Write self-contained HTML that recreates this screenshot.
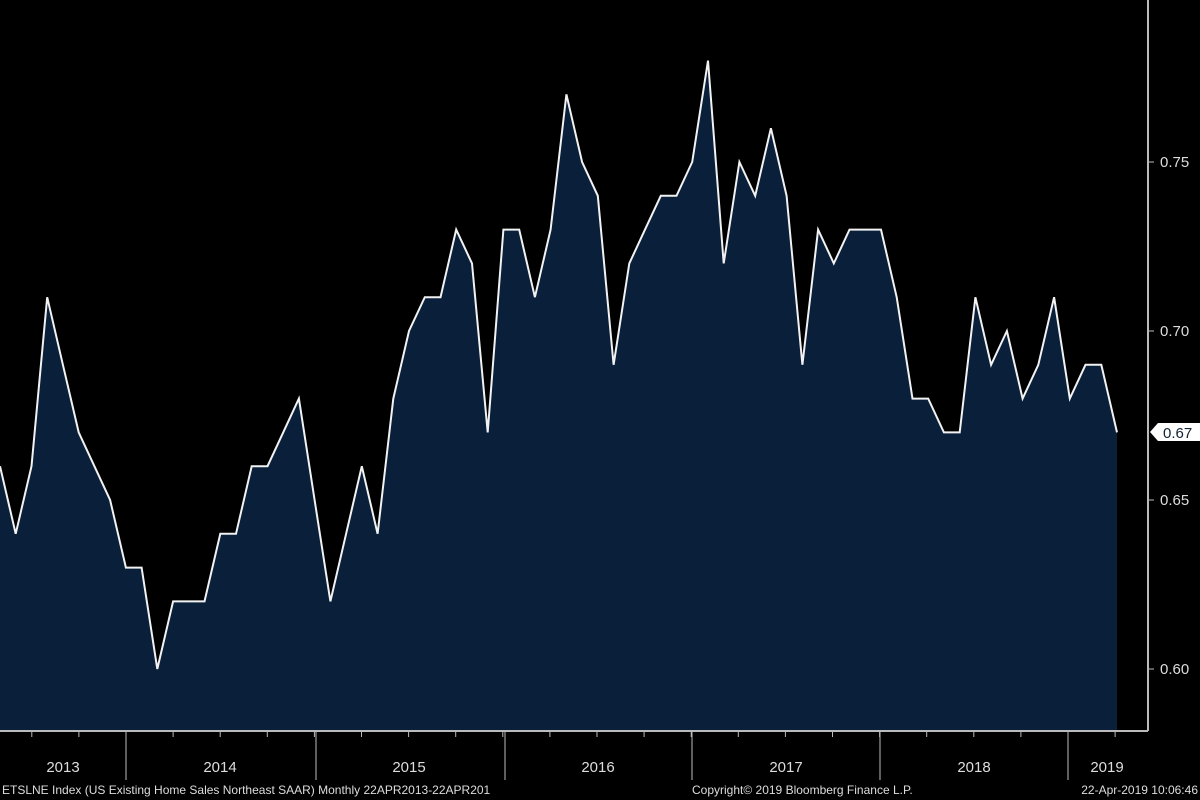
<!DOCTYPE html>
<html><head><meta charset="utf-8"><style>
html,body{margin:0;padding:0;background:#000;width:1200px;height:800px;overflow:hidden}
svg{display:block}
text{font-family:"Liberation Sans",sans-serif;fill:#ddd}
</style></head><body>
<svg id="c" width="1200" height="800" xmlns="http://www.w3.org/2000/svg">
<rect width="1200" height="800" fill="#000"/>
<path id="area" fill="#0a1f3a" stroke="none"/>
<polyline id="line" fill="none" stroke="#f2f2f2" stroke-width="2"/>
<line x1="0" y1="731" x2="1148" y2="731" stroke="#bbb" stroke-width="2"/>
<line x1="1148" y1="0" x2="1148" y2="731" stroke="#bbb" stroke-width="2"/>
<g id="ticks" stroke="#bbb" stroke-width="1"></g>
<g font-size="15">
<text x="1160" y="167">0.75</text>
<text x="1160" y="336">0.70</text>
<text x="1160" y="505">0.65</text>
<text x="1160" y="674">0.60</text>
</g>
<path d="M1150,432 L1158,423 L1200,423 L1200,441 L1158,441 Z" fill="#fff"/>
<text x="1163" y="438" font-size="15" style="fill:#123">0.67</text>
<g font-size="15" text-anchor="middle">
<text x="63" y="772">2013</text>
<text x="220" y="772">2014</text>
<text x="409" y="772">2015</text>
<text x="598" y="772">2016</text>
<text x="786" y="772">2017</text>
<text x="974" y="772">2018</text>
<text x="1107" y="772">2019</text>
</g>
<g font-size="12">
<text x="2" y="794">ETSLNE Index (US Existing Home Sales Northeast SAAR)  Monthly 22APR2013-22APR201</text>
<text x="692" y="794">Copyright© 2019 Bloomberg Finance L.P.</text>
<text x="1198" y="794" text-anchor="end">22-Apr-2019 10:06:46</text>
</g>
</svg>
<script>
var v=[0.66,0.64,0.66,0.71,0.69,0.67,0.66,0.65,0.63,0.63,0.60,0.62,0.62,0.62,0.64,0.64,0.66,0.66,0.67,0.68,0.65,0.62,0.64,0.66,0.64,0.68,0.70,0.71,0.71,0.73,0.72,0.67,0.73,0.73,0.71,0.73,0.77,0.75,0.74,0.69,0.72,0.73,0.74,0.74,0.75,0.78,0.72,0.75,0.74,0.76,0.74,0.69,0.73,0.72,0.73,0.73,0.73,0.71,0.68,0.68,0.67,0.67,0.71,0.69,0.70,0.68,0.69,0.71,0.68,0.69,0.69,0.67];
var n=v.length,dx=1117/(n-1),pts=[];
for(var i=0;i<n;i++){pts.push((i*dx).toFixed(1)+","+(669-(v[i]-0.60)*3380).toFixed(1));}
document.getElementById('line').setAttribute('points',pts.join(' '));
document.getElementById('area').setAttribute('d','M0,731 L'+pts.join(' L')+' L1117,731 Z');
var t='';
var ys=[126,316,505,692,880,1068];
ys.forEach(function(x){t+='<line x1="'+x+'" y1="731" x2="'+x+'" y2="780"/>';});
for(var x=126-3*47.1;x<1148;x+=47.1){if(x>0)t+='<line x1="'+x.toFixed(1)+'" y1="731" x2="'+x.toFixed(1)+'" y2="737"/>';}
for(var k=0;k<4;k++){var y=162+169*k;t+='<line x1="1148" y1="'+y+'" x2="1154" y2="'+y+'"/>';}
document.getElementById('ticks').innerHTML=t;
</script>
</body></html>
